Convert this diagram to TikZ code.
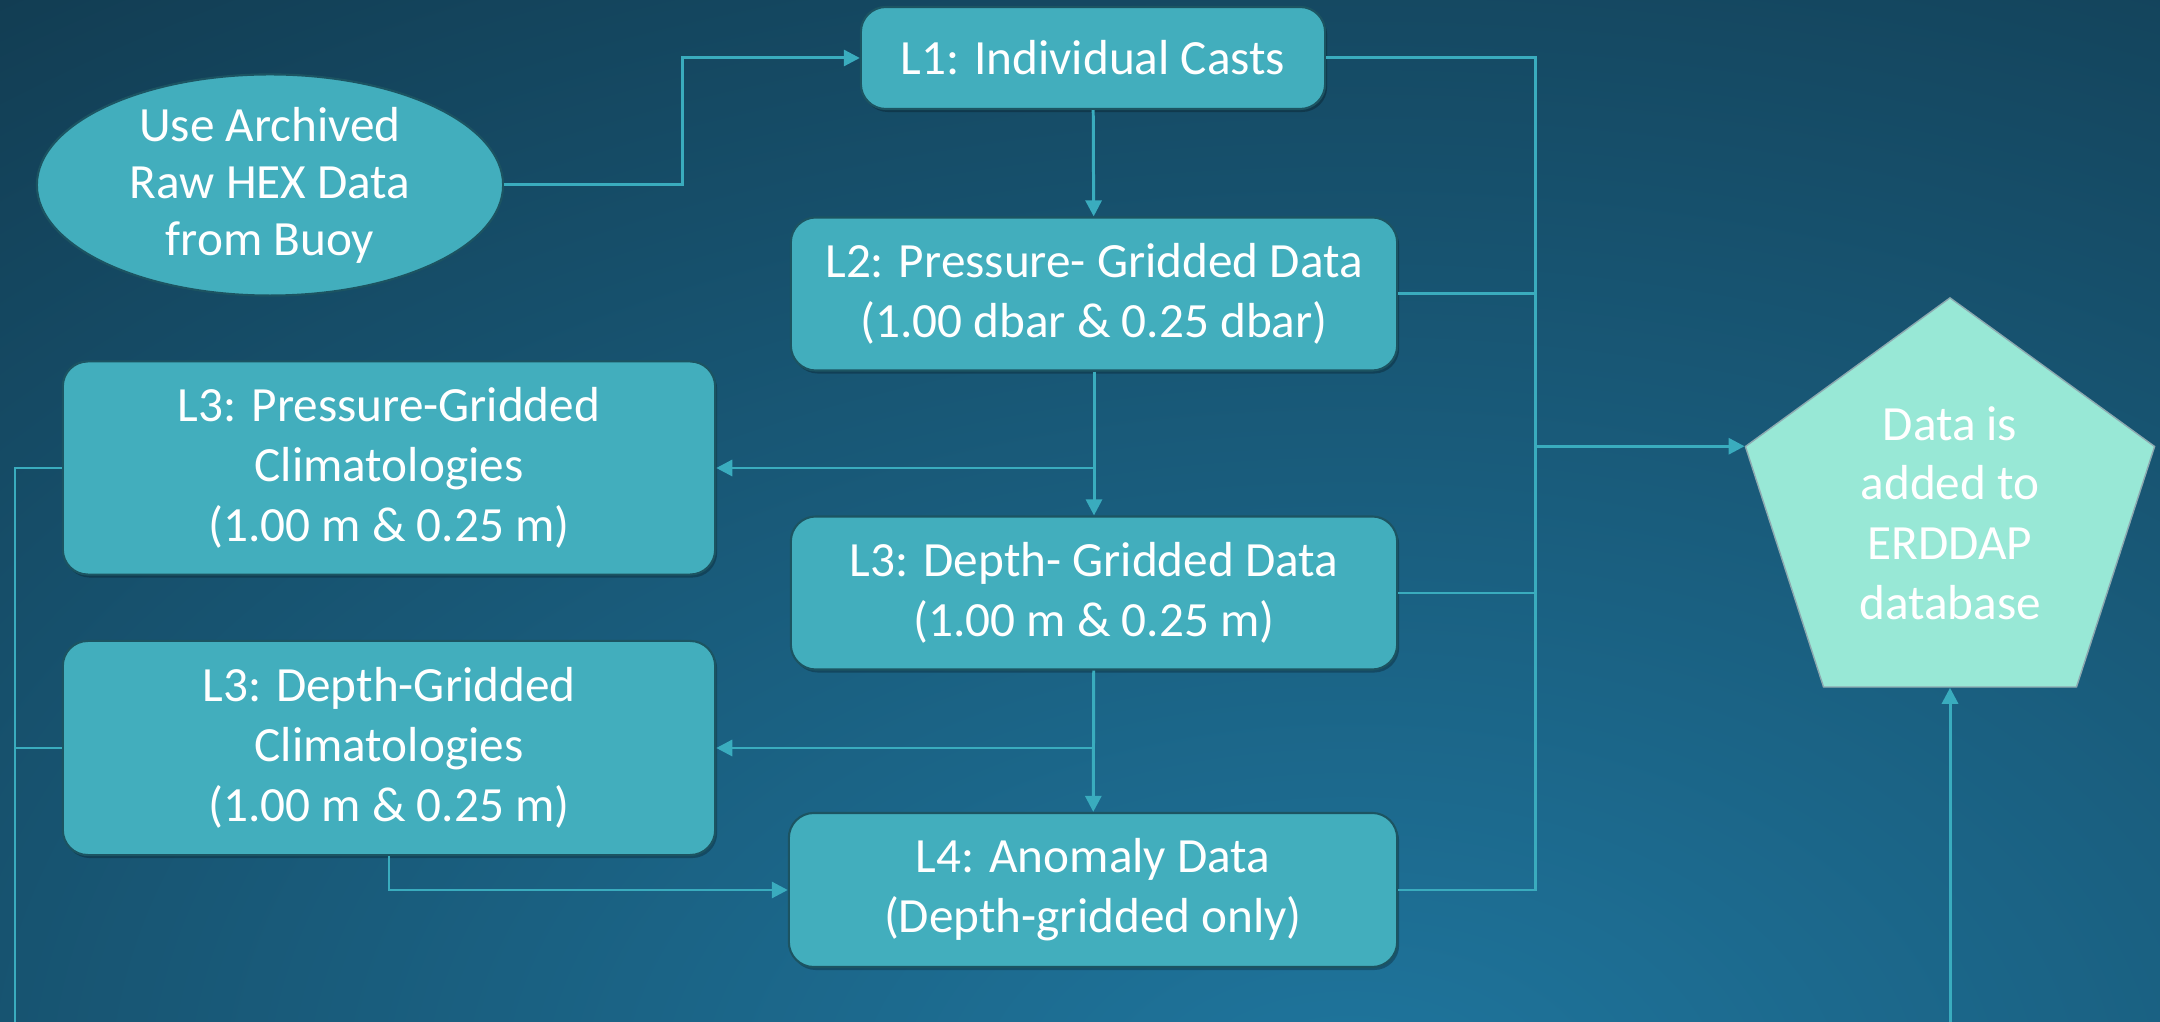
\documentclass[tikz,border=0pt]{standalone}
\usepackage{fontspec}
\setmainfont{Carlito}
\usetikzlibrary{calc,shapes.geometric,arrows.meta,shadows}

\definecolor{bgdark}{RGB}{16,52,71}
\definecolor{bglight}{RGB}{31,118,158}
\definecolor{boxfill}{RGB}{66,174,189}
\definecolor{boxedge}{RGB}{28,84,98}
\definecolor{dbfill}{RGB}{152,232,214}
\definecolor{linkcol}{RGB}{58,172,190}

\tikzset{
  stagetext/.style={text=white, align=center, font=\fontsize{14}{17}\selectfont},
  stage/.style={stagetext, rectangle, rounded corners=0.25cm, fill=boxfill, draw=boxedge, line width=0.6pt,
    drop shadow={shadow xshift=0.02cm, shadow yshift=-0.03cm, fill=black, opacity=0.25}},
  link/.style={draw=linkcol, line width=0.85pt},
  arrow/.style={link, -{Triangle[length=0.16cm,width=0.16cm]}}
}

\begin{document}
\begin{tikzpicture}[x=0.01cm,y=-0.01cm]
  \useasboundingbox (0,0) rectangle (2160,1022);
  \begin{scope}
    \clip (0,0) rectangle (2160,1022);
    \shade[inner color=bglight, outer color=bgdark] (1350,1100) ellipse [x radius=2600, y radius=1600];
  \end{scope}

  \node[ellipse, minimum width=4.66cm, minimum height=2.21cm, fill=boxfill, draw=boxedge, line width=0.6pt] (src) at (270,185) {};
  \node[stagetext, font=\fontsize{14}{16.2}\selectfont] (srctext) at (src.center) {Use Archived\\Raw HEX Data\\from Buoy};

  \node[stage, minimum width=4.64cm, minimum height=1.02cm] (l1) at (1093,58) {L1: Individual Casts};
  \node[stage, minimum width=6.06cm, minimum height=1.53cm] (l2) at (1094,294) {L2: Pressure- Gridded Data\\(1.00 dbar \& 0.25 dbar)};
  \node[stage, minimum width=6.52cm, minimum height=2.13cm] (l3p) at (389,468) {L3: Pressure-Gridded\\Climatologies\\(1.00 m \& 0.25 m)};
  \node[stage, minimum width=6.06cm, minimum height=1.53cm] (l3d) at (1094,593) {L3: Depth- Gridded Data\\(1.00 m \& 0.25 m)};
  \node[stage, minimum width=6.52cm, minimum height=2.14cm] (l3c) at (389,748) {L3: Depth-Gridded\\Climatologies\\(1.00 m \& 0.25 m)};
  \node[stage, minimum width=6.08cm, minimum height=1.54cm] (l4) at (1093,890) {L4: Anomaly Data\\(Depth-gridded only)};

  \node[regular polygon, regular polygon sides=5, minimum size=4.3cm, inner sep=0pt, fill=dbfill, draw=boxedge!50, line width=0.4pt] (db) at (1950,513) {};
  \node[stagetext] (dbtext) at (db.center) {Data is\\added to\\ERDDAP\\database};

  \coordinate (busr) at (1535,0);
  \coordinate (busl) at (15,1022);
  \coordinate (feed) at (1950,1022);

  \draw[arrow] (src.east) -| ($(src.east)!0.5!(l1.west)$) |- (l1.west);
  \draw[arrow] (l1) -- (l2);
  \draw[arrow] (l2) -- (l3d);
  \draw[arrow] (l3d) -- (l4);
  \draw[arrow] (l2.south |- l3p.east) -- (l3p.east);
  \draw[arrow] (l3d.south |- l3c.east) -- (l3c.east);
  \draw[arrow] (l3c.south) |- (l4.west);

  \draw[link] (l1.east) -| (busr |- l4.east) -- (l4.east);
  \foreach \n in {l2,l3d} {
    \draw[link] (\n.east) -- (busr |- \n.east);
  }
  \draw[arrow] (busr |- db.corner 2) -- (db.corner 2);

  \draw[link] (l3p.west) -| (busl);
  \draw[link] (l3c.west) -- (busl |- l3c.west);
  \draw[arrow] (feed) -- (db.south);
\end{tikzpicture}
\end{document}
